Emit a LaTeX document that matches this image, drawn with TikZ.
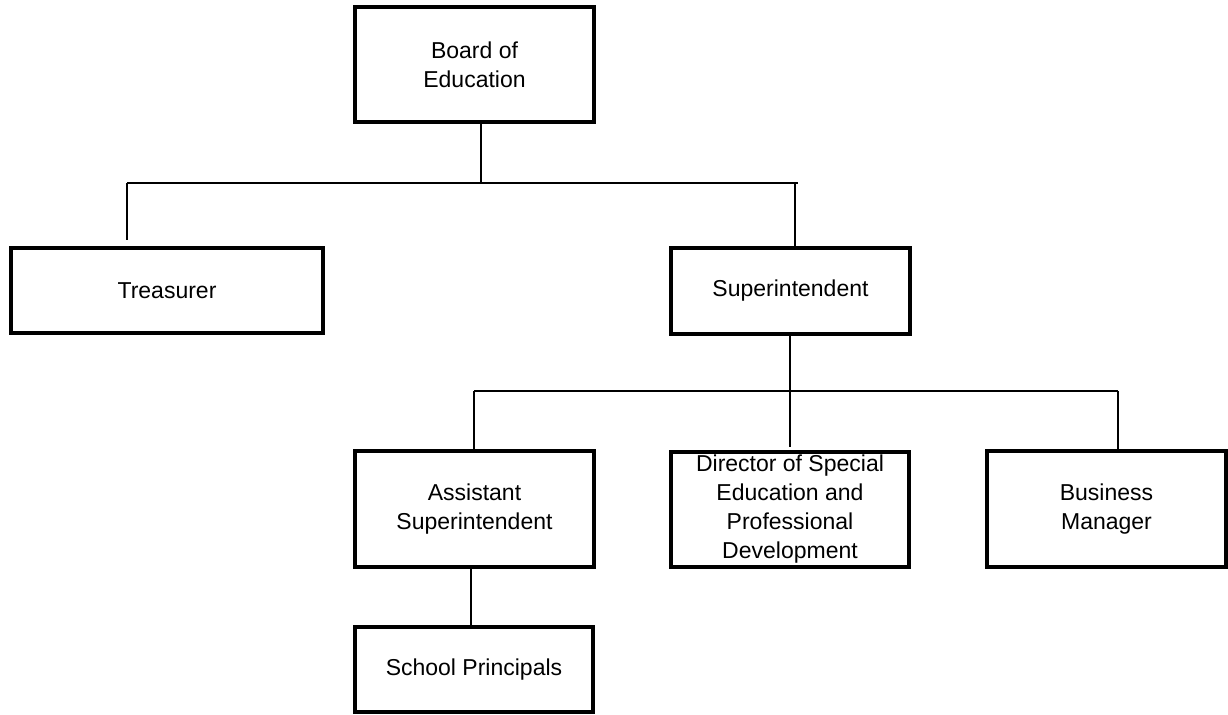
\documentclass[tikz,border=0pt]{standalone}
\usepackage{fontspec}
\setmainfont{Liberation Sans}
\usetikzlibrary{calc,positioning}

\begin{document}
\begin{tikzpicture}[x=0.5pt,y=-0.5pt,
post/.style = {rectangle, draw, line width=2pt, align=center, inner sep=0pt,
	minimum width=119.5pt, minimum height=57.5pt,
	font=\fontsize{11.5}{14.5}\selectfont},
flat/.style = {post, minimum height=42.5pt},
link/.style = {draw, line width=0.75pt}]

\useasboundingbox (0,0) rectangle (1228,715);

% boxes
\node [post] (board) at (474.5,64.5) {Board of\\Education};
\node [flat, minimum width=156pt] (treas) at (167,290.5) {Treasurer};
\node [flat, minimum height=43pt] (sup) at (790.5,291) {Superintendent};
\node [post, minimum height=58pt] (asst) at (474.5,509) {Assistant\\Superintendent};
\node [post, minimum width=119pt] (dir) at (790,509.5) {Director of Special\\Education and\\Professional\\Development};
\node [post, minimum height=58pt] (bus) at (1106.5,509) {Business\\Manager};
\node [flat, minimum width=119pt] (school) at (474,669.5) {School Principals};

% junction points
\coordinate (top) at (481,183);
\coordinate (barL) at (127,183);
\coordinate (barR) at (798,183);
\coordinate (treasEnd) at (127,240);
\coordinate (supIn) at (795,183);
\coordinate (dirEnd) at (790,447);
\coordinate (bar2L) at (474,391);
\coordinate (bar2R) at (1118,391);
\coordinate (drop) at (471,600);

\begin{scope}[every path/.style=link]
\path (board.south -| top) -- (top);
\path (barL) -- (barR);
\path (barL) -- (treasEnd);
\path (supIn) -- (supIn |- sup.north);
\path (sup.south -| dirEnd) -- (dirEnd);
\path (bar2L) -- (bar2R);
\path (bar2L) -- (bar2L |- asst.north);
\path (bar2R) -- (bar2R |- bus.north);
\path (asst.south -| drop) -- (school.north -| drop);
\end{scope}

\end{tikzpicture}
\end{document}
